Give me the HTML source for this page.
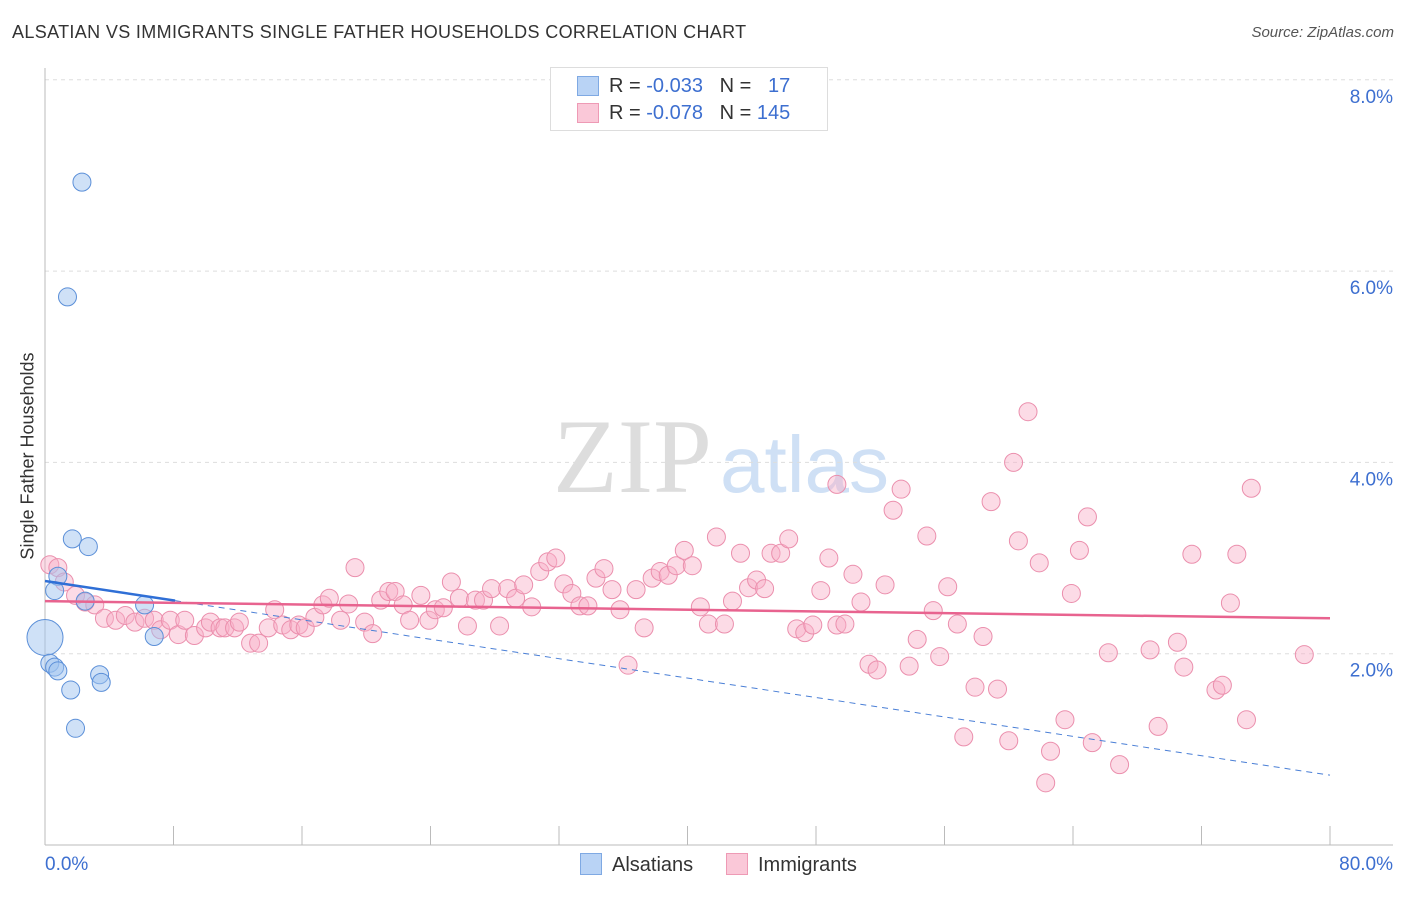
<!DOCTYPE html>
<html><head><meta charset="utf-8"><style>
body{margin:0;background:#fff;font-family:"Liberation Sans",sans-serif}
#c{position:relative;width:1406px;height:892px}
</style></head><body>
<div id="c">
<svg id="s" width="1406" height="892"></svg>
</div>
<script>
const pinkX=[0.3,0.8,1.2,1.9,2.5,3.1,3.7,4.4,5.0,5.6,6.2,6.8,7.2,7.8,8.3,8.7,9.3,10.0,10.3,10.9,11.2,11.8,12.1,12.8,13.3,13.9,14.3,14.8,15.3,15.8,16.2,16.8,17.3,17.7,18.4,18.9,19.3,19.9,20.4,20.9,21.4,21.8,22.3,22.7,23.4,23.9,24.3,24.8,25.3,25.8,26.3,26.8,27.3,27.8,28.3,28.8,29.3,29.8,30.3,30.8,31.3,31.8,32.3,32.8,33.3,33.8,34.3,34.8,35.3,35.8,36.3,36.8,37.3,37.8,38.3,38.8,39.3,39.8,40.3,40.8,41.3,41.8,42.3,42.8,43.3,43.8,44.3,44.8,45.2,45.8,46.3,46.8,47.3,47.8,48.3,48.8,49.3,49.3,49.8,50.3,50.8,51.3,51.8,52.3,52.8,53.3,53.8,54.3,54.9,55.3,55.7,56.2,56.8,57.2,57.9,58.4,58.9,59.3,60.0,60.3,60.6,61.2,61.9,62.3,62.6,63.5,63.9,64.4,64.9,65.2,66.2,66.9,68.8,69.3,70.5,70.9,71.4,72.9,73.3,73.8,74.2,74.8,75.1,78.4];
const pinkY=[2.93,2.90,2.75,2.61,2.54,2.51,2.37,2.35,2.40,2.33,2.37,2.35,2.25,2.35,2.20,2.35,2.19,2.27,2.33,2.27,2.27,2.27,2.33,2.11,2.11,2.27,2.46,2.30,2.25,2.30,2.27,2.38,2.51,2.58,2.35,2.52,2.90,2.33,2.21,2.56,2.65,2.65,2.51,2.35,2.61,2.35,2.46,2.48,2.75,2.58,2.29,2.56,2.56,2.68,2.29,2.68,2.58,2.72,2.49,2.86,2.96,3.00,2.73,2.63,2.50,2.50,2.79,2.89,2.67,2.46,1.88,2.67,2.27,2.79,2.86,2.82,2.92,3.08,2.92,2.49,2.31,3.22,2.31,2.55,3.05,2.69,2.77,2.68,3.05,3.05,3.20,2.26,2.22,2.30,2.66,3.00,2.30,3.77,2.31,2.83,2.54,1.89,1.83,2.72,3.50,3.72,1.87,2.15,3.23,2.45,1.97,2.70,2.31,1.13,1.65,2.18,3.59,1.63,1.09,4.00,3.18,4.53,2.95,0.65,0.98,1.31,2.63,3.08,3.43,1.07,2.01,0.84,2.04,1.24,2.12,1.86,3.04,1.62,1.67,2.53,3.04,1.31,3.73,1.99];
const blueX=[2.3,1.4,0,1.7,2.7,0.8,0.6,2.5,6.2,6.8,0.3,0.6,0.8,3.4,3.5,1.6,1.9];
const blueY=[6.93,5.73,2.17,3.20,3.12,2.81,2.66,2.55,2.51,2.18,1.90,1.86,1.82,1.78,1.70,1.62,1.22];
const blueR=[9,9,18,9,9,9,9,9,9,9,9,9,9,9,9,9,9];
const yTicks=[2,4,6,8];
const xTickVals=[0,8,16,24,32,40,48,56,64,72,80];
const pinkTrend=[2.55,2.37];
const blueTrend=[2.76,0.73];
const blueSolidEnd=8.1;

const X0=45,X1=1330,Y0=845,PY=95.65;
const sx=v=>X0+(v/80)*(X1-X0);
const sy=v=>Y0-v*PY;
const s=document.getElementById('s');
const NS='http://www.w3.org/2000/svg';
function mk(t,a,p){const e=document.createElementNS(NS,t);for(const k in a)e.setAttribute(k,a[k]);(p||s).appendChild(e);return e;}

let w=mk('text',{x:553,y:492,'font-family':'Liberation Serif','font-size':106,fill:'#ddd'});w.textContent='ZIP';


w=mk('text',{x:720,y:492,'font-family':'Liberation Sans','font-size':80,fill:'#cfe0f5'});w.textContent='atlas';



yTicks.forEach(v=>{
 const g=mk('line',{x1:X0,x2:1393,y1:sy(v),y2:sy(v),stroke:'#ddd','stroke-dasharray':'4,4'});
 
 
 const t=mk('text',{x:1393,y:sy(v)+23,'text-anchor':'end','font-size':19,fill:'#3d6fd0'});t.textContent=v.toFixed(1)+'%';
 
 
});
let a=mk('line',{x1:X0,x2:X0,y1:68,y2:Y0,stroke:'#bbb'});
a=mk('line',{x1:X0,x2:1393,y1:Y0,y2:Y0,stroke:'#bbb'});
xTickVals.forEach(v=>{const t=mk('line',{x1:sx(v),x2:sx(v),y1:826,y2:Y0,stroke:'#bbb'});
 
 });
let t=mk('text',{x:45,y:870,'font-size':19,fill:'#3d6fd0'});t.textContent='0.0%';
t=mk('text',{x:1393,y:870,'text-anchor':'end','font-size':19,fill:'#3d6fd0'});t.textContent='80.0%';

pinkX.forEach((v,i)=>{const c=mk('circle',{cx:sx(v),cy:sy(pinkY[i]),r:9,fill:'rgba(248,176,200,0.45)',stroke:'#eb8fad','stroke-width':1});
 
 });
blueX.forEach((v,i)=>{const c=mk('circle',{cx:sx(v),cy:sy(blueY[i]),r:blueR[i],fill:'rgba(160,195,240,0.5)',stroke:'#5b8fd8','stroke-width':1});
 
 });

const bAt=x=>blueTrend[0]+(blueTrend[1]-blueTrend[0])*x/80;
let l=mk('line',{x1:sx(blueSolidEnd),y1:sy(bAt(blueSolidEnd)),x2:sx(80),y2:sy(blueTrend[1]),stroke:'#4a7fd6','stroke-width':1,'stroke-dasharray':'6,5'});

l=mk('line',{x1:sx(0),y1:sy(blueTrend[0]),x2:sx(blueSolidEnd),y2:sy(bAt(blueSolidEnd)),stroke:'#2f6fd6','stroke-width':2.5});

l=mk('line',{x1:sx(0),y1:sy(pinkTrend[0]),x2:sx(80),y2:sy(pinkTrend[1]),stroke:'#e8638f','stroke-width':2.5});

</script>
<div style="position:absolute;left:12px;top:22px;font-size:18px;color:#333;letter-spacing:0.35px">ALSATIAN VS IMMIGRANTS SINGLE FATHER HOUSEHOLDS CORRELATION CHART</div>
<div style="position:absolute;right:12px;top:24px;font-size:15px;color:#555;font-style:italic">Source: ZipAtlas.com</div>
<div style="position:absolute;left:28px;top:456px;font-size:18px;color:#333;transform:translate(-50%,-50%) rotate(-90deg);white-space:nowrap">Single Father Households</div>
<div style="position:absolute;left:550px;top:67px;width:276px;height:62px;border:1px solid #ddd;background:#fff;font-size:20px;color:#333">
 <div style="position:absolute;left:26px;top:8px;width:20px;height:18px;background:#b9d3f5;border:1px solid #7fa9e3"></div>
 <div style="position:absolute;left:58px;top:7px">R = <span style="color:#3d6fd0">-0.033</span>&nbsp;&nbsp;&nbsp;N = &nbsp;&nbsp;<span style="color:#3d6fd0">17</span></div>
 <div style="position:absolute;left:26px;top:35px;width:20px;height:18px;background:#fac8d8;border:1px solid #ee9ab5"></div>
 <div style="position:absolute;left:58px;top:34px">R = <span style="color:#3d6fd0">-0.078</span>&nbsp;&nbsp;&nbsp;N = <span style="color:#3d6fd0">145</span></div>
</div>
<div style="position:absolute;left:580px;top:853px;font-size:20px;color:#333"><span style="display:inline-block;width:20px;height:20px;background:#b9d3f5;border:1px solid #7fa9e3;vertical-align:-4px;margin-right:10px"></span>Alsatians</div>
<div style="position:absolute;left:726px;top:853px;font-size:20px;color:#333"><span style="display:inline-block;width:20px;height:20px;background:#fac8d8;border:1px solid #ee9ab5;vertical-align:-4px;margin-right:10px"></span>Immigrants</div>
</body></html>
